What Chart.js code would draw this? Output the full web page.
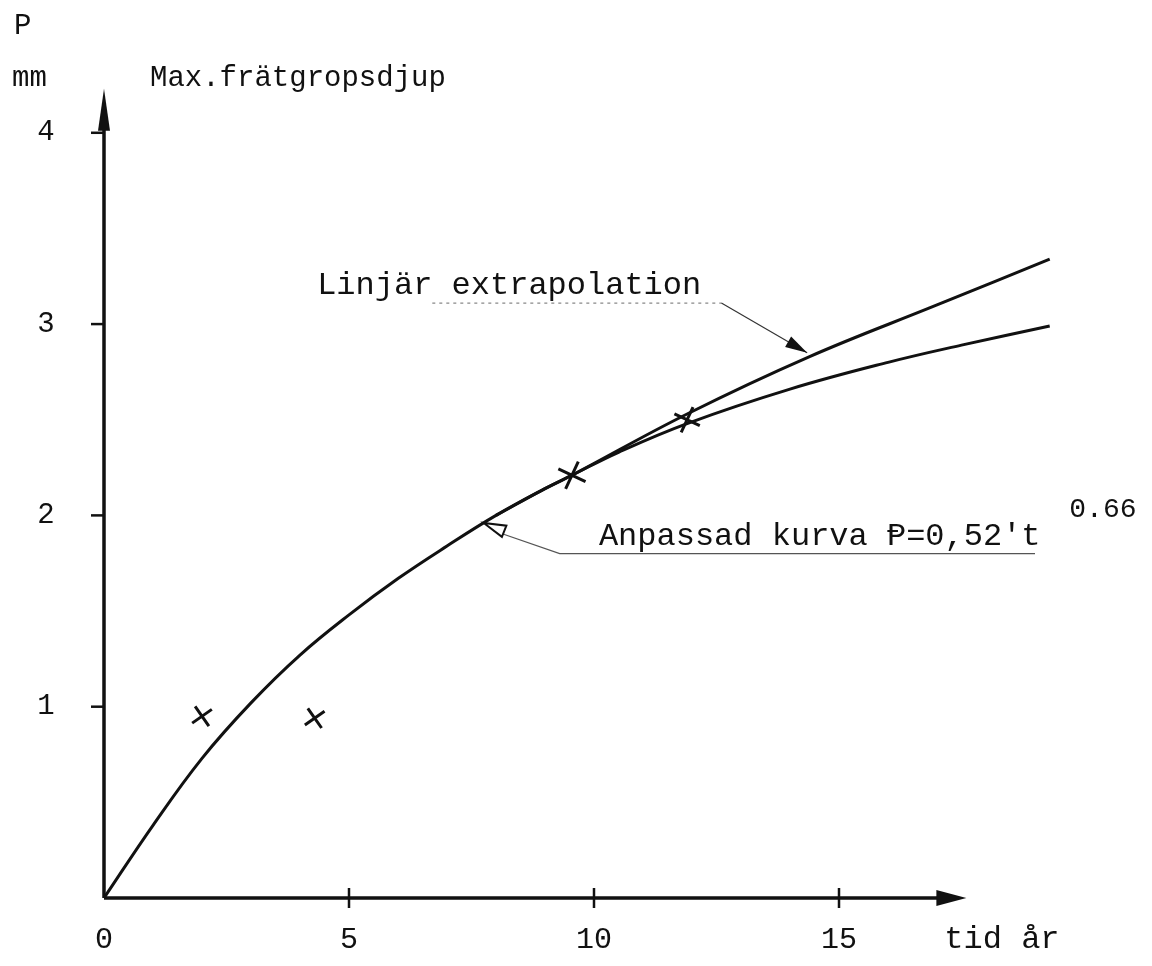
<!DOCTYPE html>
<html>
<head>
<meta charset="utf-8">
<script src="https://cdn.jsdelivr.net/npm/chart.js@4"></script>
<style>
  html, body { margin: 0; padding: 0; background: #fff; }
  #chart { display: block; }
</style>
</head>
<body>
<canvas id="chart" width="1152" height="966"></canvas>
<script>
// Max. frätgropsdjup P (mm) vs tid (år)
const fitT = [0, 1, 2, 3, 4, 5, 6, 7, 8, 9, 9.55, 10.5, 11.9, 14, 16, 17.5, 19.3];
const fitP = [0, 0.38, 0.73, 1.02, 1.27, 1.48, 1.67, 1.84, 2.0, 2.14, 2.21, 2.33, 2.48, 2.66, 2.8, 2.89, 2.99];
const extT = [8, 9, 9.55, 11.9, 14.4, 17, 19.3];
const extP = [2.0, 2.14, 2.21, 2.53, 2.83, 3.1, 3.34];
const measT = [2.0, 4.3, 9.55, 11.9];
const measP = [0.95, 0.94, 2.21, 2.5];
const xTicks = [0, 5, 10, 15];
const yTicks = [1, 2, 3, 4];

const FONT = '"Liberation Mono", "DejaVu Sans Mono", monospace';

function pts(xs, ys) {
    return xs.map((x, i) => ({ x: x, y: ys[i] }));
}

function arrowHead(ctx, fromX, fromY, toX, toY, len, half, filled) {
    const a = Math.atan2(toY - fromY, toX - fromX);
    ctx.beginPath();
    ctx.moveTo(toX, toY);
    ctx.lineTo(toX - len * Math.cos(a) + half * Math.sin(a), toY - len * Math.sin(a) - half * Math.cos(a));
    ctx.lineTo(toX - len * Math.cos(a) - half * Math.sin(a), toY - len * Math.sin(a) + half * Math.cos(a));
    ctx.closePath();
    if (filled) {
        ctx.fill();
    } else {
        ctx.fillStyle = '#fff';
        ctx.fill();
        ctx.stroke();
    }
}

// axes, ticks, labels and the two pointer notes
const sketch = {
    id: 'sketch',
    beforeDatasetsDraw(chart) {
        const ctx = chart.ctx;
        const xs = chart.scales.x, ys = chart.scales.y;
        const x0 = xs.getPixelForValue(0), y0 = ys.getPixelForValue(0);
        const xEnd = xs.getPixelForValue(17.6);
        const yEnd = ys.getPixelForValue(4.23);
        ctx.save();
        ctx.strokeStyle = '#111';
        ctx.fillStyle = '#111';
        ctx.lineWidth = 3.5;
        ctx.beginPath();
        ctx.moveTo(x0, y0);
        ctx.lineTo(x0, yEnd + 20);
        ctx.moveTo(x0, y0);
        ctx.lineTo(xEnd - 20, y0);
        ctx.stroke();
        arrowHead(ctx, x0, y0, x0, yEnd, 42, 6, true);
        arrowHead(ctx, x0, y0, xEnd, y0, 30, 8, true);

        ctx.lineWidth = 2.5;
        ctx.textBaseline = 'middle';
        ctx.textAlign = 'center';
        ctx.font = '29px ' + FONT;
        yTicks.forEach(v => {
            const py = ys.getPixelForValue(v);
            ctx.beginPath();
            ctx.moveTo(x0 - 13, py);
            ctx.lineTo(x0, py);
            ctx.stroke();
            ctx.fillText(String(v), x0 - 58, py);
        });
        ctx.font = '30px ' + FONT;
        xTicks.forEach(v => {
            const px = xs.getPixelForValue(v);
            if (v > 0) {
                ctx.beginPath();
                ctx.moveTo(px, y0 - 10);
                ctx.lineTo(px, y0 + 10);
                ctx.stroke();
            }
            ctx.fillText(String(v), px, y0 + 42);
        });
        ctx.textAlign = 'left';
        ctx.font = '32px ' + FONT;
        ctx.fillText('tid år', xs.getPixelForValue(17.15), y0 + 42);
        ctx.font = '29px ' + FONT;
        ctx.fillText('P', 14, 26);
        ctx.fillText('mm', 12, 78);
        ctx.fillText('Max.frätgropsdjup', 150, 78);
        ctx.restore();
    },
    afterDatasetsDraw(chart) {
        const ctx = chart.ctx;
        const xs = chart.scales.x, ys = chart.scales.y;
        const px = v => xs.getPixelForValue(v);
        const py = v => ys.getPixelForValue(v);
        ctx.save();
        ctx.fillStyle = '#111';
        ctx.font = '32px ' + FONT;
        ctx.textBaseline = 'middle';
        ctx.textAlign = 'left';

        // Linjär extrapolation -> upper line
        ctx.fillText('Linjär extrapolation', px(4.35), py(3.2));
        ctx.strokeStyle = '#888';
        ctx.lineWidth = 1.2;
        ctx.setLineDash([3, 4]);
        ctx.beginPath();
        ctx.moveTo(px(6.7), py(3.11));
        ctx.lineTo(px(12.6), py(3.11));
        ctx.stroke();
        ctx.setLineDash([]);
        ctx.strokeStyle = '#333';
        ctx.beginPath();
        ctx.moveTo(px(12.6), py(3.11));
        ctx.lineTo(px(14.35), py(2.85));
        ctx.stroke();
        ctx.fillStyle = '#111';
        arrowHead(ctx, px(12.6), py(3.11), px(14.35), py(2.85), 22, 6, true);

        // Anpassad kurva -> fitted curve
        ctx.fillText('Anpassad kurva Ᵽ=0,52\'t', px(10.1), py(1.89));
        ctx.font = '28px ' + FONT;
        ctx.fillText('0.66', px(19.7), py(2.03));
        ctx.strokeStyle = '#555';
        ctx.lineWidth = 1.2;
        ctx.beginPath();
        ctx.moveTo(px(19.0), py(1.8));
        ctx.lineTo(px(9.3), py(1.8));
        ctx.lineTo(px(7.95), py(1.92));
        ctx.stroke();
        ctx.strokeStyle = '#111';
        ctx.lineWidth = 2;
        arrowHead(ctx, px(9.3), py(1.8), px(7.75), py(1.96), 22, 6, false);
        ctx.restore();
    }
};

new Chart(document.getElementById('chart').getContext('2d'), {
    type: 'scatter',
    data: {
        datasets: [
            {
                label: 'Anpassad kurva',
                data: pts(fitT, fitP),
                showLine: true,
                borderColor: '#111',
                borderWidth: 3,
                pointRadius: 0,
                tension: 0.4
            },
            {
                label: 'Linjär extrapolation',
                data: pts(extT, extP),
                showLine: true,
                borderColor: '#111',
                borderWidth: 3,
                pointRadius: 0,
                tension: 0.4
            },
            {
                label: 'Mätvärden',
                data: pts(measT, measP),
                showLine: false,
                pointStyle: 'cross',
                pointRadius: [12, 12, 15, 14],
                pointRotation: [-35, -35, 25, 25],
                borderColor: '#111',
                borderWidth: 3
            }
        ]
    },
    options: {
        responsive: false,
        animation: false,
        events: [],
        layout: { padding: { left: 104, right: 68, top: 15, bottom: 68 } },
        plugins: { legend: { display: false }, tooltip: { enabled: false } },
        scales: {
            x: { type: 'linear', min: 0, max: 20, display: false },
            y: { type: 'linear', min: 0, max: 4.6, display: false }
        }
    },
    plugins: [sketch]
});
</script>
</body>
</html>
